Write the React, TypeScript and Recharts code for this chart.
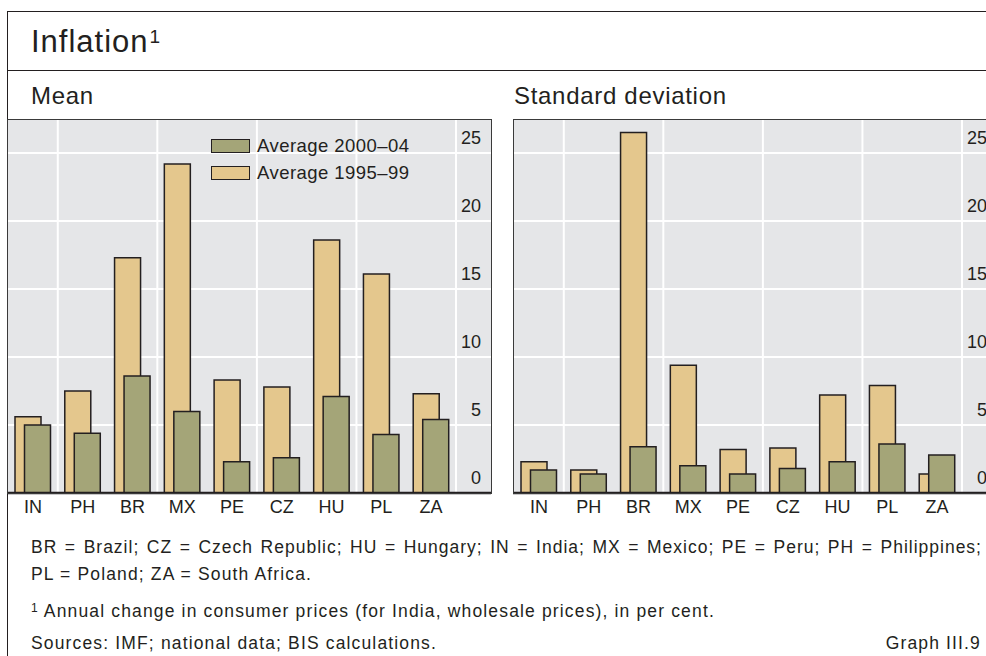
// Inflation: mean and standard deviation, 1995-99 vs 2000-04
import { BarChart, Bar, XAxis, YAxis, CartesianGrid, Legend } from 'recharts';

const COUNTRIES = ['IN', 'PH', 'BR', 'MX', 'PE', 'CZ', 'HU', 'PL', 'ZA'];

// Mean inflation, per cent
const MEAN_1995_99 = [5.6, 7.5, 17.3, 24.2, 8.3, 7.8, 18.6, 16.1, 7.3];
const MEAN_2000_04 = [5.0, 4.4, 8.6, 6.0, 2.3, 2.6, 7.1, 4.3, 5.4];

// Standard deviation of inflation
const SD_1995_99 = [2.3, 1.7, 26.5, 9.4, 3.2, 3.3, 7.2, 7.9, 1.4];
const SD_2000_04 = [1.7, 1.4, 3.4, 2.0, 1.4, 1.8, 2.3, 3.6, 2.8];

const Y_TICKS = [0, 5, 10, 15, 20, 25];
// vertical grid lines sit after every second country
const GRID_AFTER = [1, 3, 5, 7, 9];

const ORANGE = '#E4C78D';
const GREEN = '#A4A578';
const INK = '#231f20';
const FONT = '"Liberation Sans", Arial, sans-serif';

const PANEL_W = 485;
const PLOT_H = 374;
const AXIS_H = 40;
const PAD_L = 1;
const PAD_R = 35;

interface Row {
  code: string;
  early: number;
  late: number;
}

function buildRows(early: number[], late: number[]): Row[] {
  return COUNTRIES.map((code, i) => ({ code, early: early[i], late: late[i] }));
}

const LEGEND_ITEMS = [
  { key: 'late', label: 'Average 2000–04', color: GREEN },
  { key: 'early', label: 'Average 1995–99', color: ORANGE }
];

function LegendBox() {
  return (
    <div style={{ fontFamily: FONT, fontSize: 18.5, letterSpacing: 0.45, color: INK }}>
      {LEGEND_ITEMS.map(item => (
        <div key={item.key} style={{ display: 'flex', alignItems: 'center', height: 27 }}>
          <span style={{
            display: 'inline-block',
            width: 39,
            height: 14,
            background: item.color,
            border: `1.5px solid ${INK}`,
            boxSizing: 'border-box',
            marginRight: 7
          }} />
          <span>{item.label}</span>
        </div>
      ))}
    </div>
  );
}

function YTick(props: any) {
  const { y, payload } = props;
  return (
    <text x={PANEL_W - 11} y={y - 15} textAnchor="end" dominantBaseline="central"
      fontFamily={FONT} fontSize={18} fill={INK}>
      {payload.value}
    </text>
  );
}

function XTick(props: any) {
  const { x, y, payload } = props;
  return (
    <text x={x} y={y + 14} textAnchor="middle" dominantBaseline="central"
      fontFamily={FONT} fontSize={18} fill={INK}>
      {payload.value}
    </text>
  );
}

// boundaries between category bands, from the plot offset
function bandBoundaries({ offset }: any): number[] {
  const band = (offset.width - PAD_L - PAD_R) / COUNTRIES.length;
  return GRID_AFTER.map(k => offset.left + PAD_L + k * band);
}

interface PanelProps {
  left: number;
  title: string;
  titleX: number;
  rows: Row[];
  legend?: boolean;
}

function Panel({ left, title, titleX, rows, legend }: PanelProps) {
  return (
    <>
      <div style={{
        position: 'absolute', left: titleX, top: 84, fontFamily: FONT,
        fontSize: 24, lineHeight: '24px', letterSpacing: 0.7, color: INK, whiteSpace: 'nowrap'
      }}>
        {title}
      </div>
      <div style={{
        position: 'absolute', left, top: 119, width: PANEL_W, height: PLOT_H + 1,
        background: '#E5E6E8'
      }} />
      <div style={{ position: 'absolute', left, top: 119 }}>
        <BarChart
          width={PANEL_W}
          height={PLOT_H + AXIS_H}
          data={rows}
          margin={{ top: 0, right: 0, bottom: 0, left: 0 }}
          barSize={26}
          barGap={-16.5}
        >
          <CartesianGrid
            stroke="#ffffff"
            strokeWidth={2}
            verticalCoordinatesGenerator={bandBoundaries}
          />
          <XAxis
            dataKey="code"
            height={AXIS_H}
            padding={{ left: PAD_L, right: PAD_R }}
            axisLine={{ stroke: INK, strokeWidth: 2.5 }}
            tickLine={false}
            tickSize={0}
            tickMargin={0}
            interval={0}
            tick={<XTick />}
          />
          <YAxis
            orientation="right"
            width={1}
            domain={[0, 27.5]}
            ticks={Y_TICKS}
            axisLine={false}
            tickLine={false}
            tick={<YTick />}
          />
          {legend && (
            <Legend
              layout="horizontal"
              verticalAlign="middle"
              content={() => <LegendBox />}
              wrapperStyle={{ position: 'absolute', top: 13.5, left: 204, width: 220 }}
            />
          )}
          <Bar dataKey="early" name="Average 1995–99" fill={ORANGE} stroke={INK} strokeWidth={1.5} isAnimationActive={false} />
          <Bar dataKey="late" name="Average 2000–04" fill={GREEN} stroke={INK} strokeWidth={1.5} isAnimationActive={false} />
        </BarChart>
      </div>
      <div style={{
        position: 'absolute', left, top: 119, width: PANEL_W, height: PLOT_H + 1,
        border: '1.5px solid #3a3a3a', boxSizing: 'border-box', pointerEvents: 'none'
      }} />
    </>
  );
}

const footStyle: React.CSSProperties = {
  position: 'absolute', left: 31, fontFamily: FONT, fontSize: 17.5,
  lineHeight: '18px', letterSpacing: 1.15, color: INK, whiteSpace: 'nowrap'
};

export default function App() {
  return (
    <div style={{
      position: 'fixed', left: 0, top: 0, width: 986, height: 656,
      overflow: 'hidden', background: '#ffffff'
    }}>
      <div style={{
        position: 'absolute', left: 6.5, top: 10.5, width: 1100, height: 700,
        border: `1.5px solid ${INK}`, boxSizing: 'border-box'
      }} />
      <div style={{
        position: 'absolute', left: 6.5, top: 70, width: 1100, height: 0,
        borderTop: `1.5px solid ${INK}`
      }} />
      <div style={{
        position: 'absolute', left: 31, top: 26, fontFamily: FONT, fontSize: 31,
        lineHeight: '31px', letterSpacing: 1, color: INK, whiteSpace: 'nowrap'
      }}>
        Inflation<span style={{ fontSize: 19, position: 'relative', top: -9, marginLeft: 1 }}>1</span>
      </div>

      <Panel left={7} titleX={31} title="Mean" rows={buildRows(MEAN_1995_99, MEAN_2000_04)} legend />
      <Panel left={512.5} titleX={514} title="Standard deviation" rows={buildRows(SD_1995_99, SD_2000_04)} />

      <div style={{
        ...footStyle, top: 538, width: 951, whiteSpace: 'normal',
        textAlign: 'justify', textAlignLast: 'justify', letterSpacing: 1.0
      }}>
        BR = Brazil; CZ = Czech Republic; HU = Hungary; IN = India; MX = Mexico; PE = Peru; PH = Philippines;
      </div>
      <div style={{ ...footStyle, top: 565 }}>
        PL = Poland; ZA = South Africa.
      </div>
      <div style={{ ...footStyle, top: 602 }}>
        <span style={{ fontSize: 12, position: 'relative', top: -5 }}>1</span> Annual change in consumer prices (for India, wholesale prices), in per cent.
      </div>
      <div style={{ ...footStyle, top: 634 }}>
        Sources: IMF; national data; BIS calculations.
      </div>
      <div style={{ ...footStyle, left: 'auto', right: 5, top: 634 }}>
        Graph III.9
      </div>
    </div>
  );
}
